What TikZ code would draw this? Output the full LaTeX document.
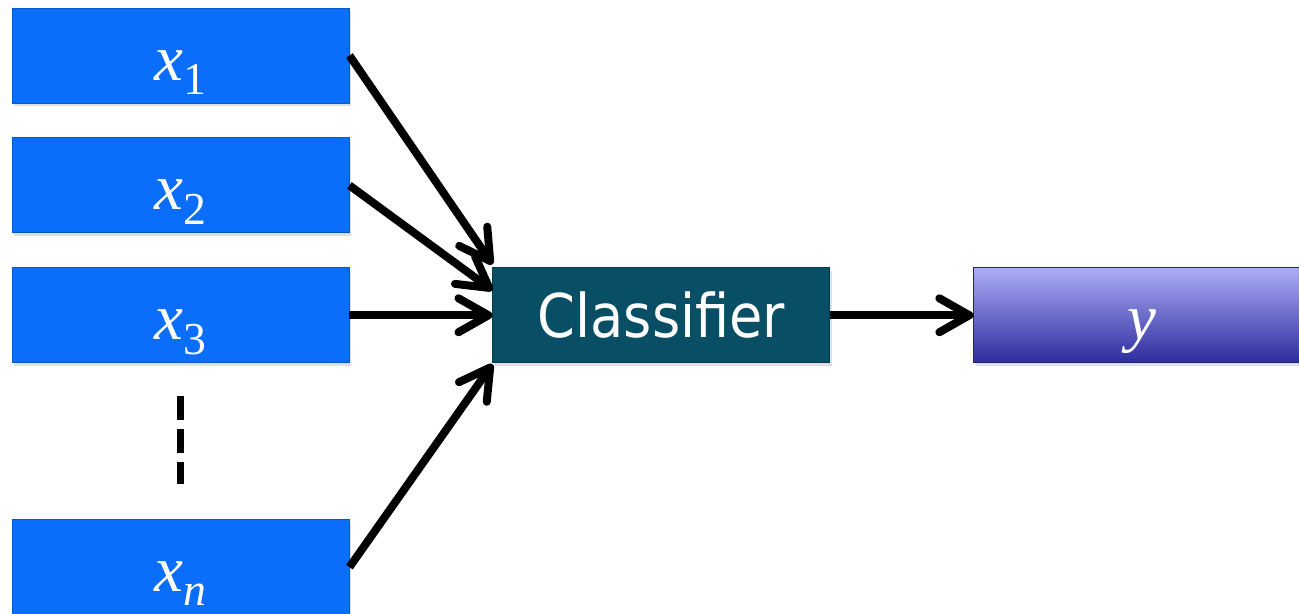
\documentclass[tikz,border=0pt]{standalone}
\usepackage{fontspec}
\usepackage{tikz}
\usetikzlibrary{arrows.meta,positioning,calc,shadows}
\newfontfamily\varfont{Liberation Serif}
\newfontfamily\clffont{DejaVu Sans Condensed}
\definecolor{featcolor}{RGB}{10,110,250}
\definecolor{clfcolor}{RGB}{8,78,100}
\definecolor{outtop}{RGB}{172,172,246}
\definecolor{outbot}{RGB}{44,44,158}
\newcommand{\feat}[2]{{\varfont\itshape #1}\raisebox{-0.22em}{\fontsize{26}{26}\selectfont\varfont #2}}

\begin{document}
\begin{tikzpicture}[
  box/.style={rectangle, draw=#1!80!black, line width=0.5pt,
              minimum width=6.74cm, minimum height=1.9cm, inner sep=0pt,
              text=white, text height=0.98cm, text depth=0cm,
              drop shadow={opacity=0.25, shadow xshift=0.04cm, shadow yshift=-0.06cm}},
  featbox/.style={box=featcolor, fill=featcolor, font=\fontsize{37}{40}\selectfont},
  arr/.style={-{Straight Barb[length=0.6cm, width=0.68cm, round]}, line width=0.16cm, #1},
  vdots/.style={line width=0.15cm, dash pattern=on 0.48cm off 0.18cm}
]
  \useasboundingbox (0,0) rectangle (25.98,-12.26);

  % Input features
  \node[featbox] (x1) at (3.61,-1.11) {\feat{x}{1}};
  \node[featbox, below=0.68cm of x1] (x2) {\feat{x}{2}};
  \node[featbox, below=0.68cm of x2] (x3) {\feat{x}{3}};
  \node[featbox, below=3.12cm of x3] (xn) {\feat{x}{\itshape n}};

  % Classifier box
  \node[box=clfcolor, fill=clfcolor, right=2.86cm of x3, text height=0.9cm,
        font=\clffont\fontsize{34.3}{38}\selectfont] (clf) {Classifier};

  % Output box
  \node[box=outbot, top color=outtop, bottom color=outbot, right=2.86cm of clf,
        font=\fontsize{37}{40}\selectfont] (out) {{\varfont\itshape y}};

  % Dots between x3 and xn
  \draw[vdots] ([yshift=-0.66cm]x3.south) -- ([yshift=0.7cm]xn.north);

  % Arrows
  \draw[arr] (x1.east) -- ([yshift=0.06cm]clf.north west);
  \draw[arr] (x2.east) -- ([yshift=0.5cm]clf.west);
  \draw[arr] (x3.east) -- (clf.west);
  \draw[arr] (xn.east) -- ([yshift=-0.02cm]clf.south west);
  \draw[arr] (clf.east) -- (out.west);

\end{tikzpicture}
\end{document}
